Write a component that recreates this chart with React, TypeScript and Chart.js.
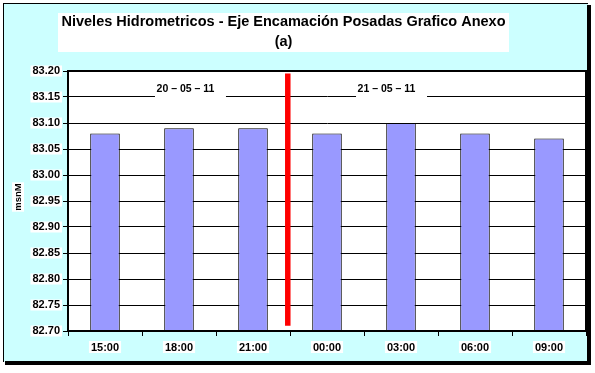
import React, { useEffect, useRef } from 'react';
import { Chart, registerables } from 'chart.js';

Chart.register(...registerables);

const categories = ['15:00', '18:00', '21:00', '00:00', '03:00', '06:00', '09:00'];
const levels = [83.08, 83.09, 83.09, 83.08, 83.1, 83.08, 83.07];
const yMin = 82.7;
const yMax = 83.2;
const yStep = 0.05;
const titleLines = ['Niveles Hidrometricos - Eje Encamación Posadas Grafico Anexo', '(a)'];
const yAxisTitle = 'msnM';
const dateLabels = ['20 – 05 – 11', '21 – 05 – 11'];
const dateLabelX = [1.155, 3.872];
const dateLabelY = 83.165;
const dividerX = 2.47;
const dividerRange = [83.195, 82.71];

const FONT = '"Liberation Sans", Arial, sans-serif';

const decor = {
  id: 'decor',
  beforeDraw(chart: any) {
    const { ctx, chartArea } = chart;
    ctx.save();
    ctx.fillStyle = '#ffffff';
    ctx.fillRect(0, 0, chart.width, chart.height);
    ctx.fillStyle = '#CCFFFF';
    ctx.fillRect(3, 3, 585, 359);
    ctx.fillStyle = '#000';
    ctx.fillRect(3, 3, 585, 1);
    ctx.fillRect(3, 3, 1, 359);
    ctx.fillRect(587, 5, 4, 360);
    ctx.fillRect(5, 361, 586, 4);
    ctx.fillStyle = '#ffffff';
    ctx.fillRect(chartArea.left, chartArea.top, chartArea.right - chartArea.left, chartArea.bottom - chartArea.top);
    ctx.restore();
  },
  afterDatasetsDraw(chart: any) {
    const { ctx } = chart;
    const x = chart.scales.x;
    const y = chart.scales.y;
    ctx.save();
    // divider line
    const dx = x.getPixelForValue(dividerX);
    ctx.strokeStyle = '#FF0000';
    ctx.lineWidth = 5.5;
    ctx.beginPath();
    ctx.moveTo(dx, y.getPixelForValue(dividerRange[0]));
    ctx.lineTo(dx, y.getPixelForValue(dividerRange[1]));
    ctx.stroke();
    // date labels
    const ly = y.getPixelForValue(dateLabelY);
    ctx.font = `bold 10.5px ${FONT}`;
    ctx.textAlign = 'center';
    ctx.textBaseline = 'middle';
    dateLabels.forEach((t, i) => {
      const cx = x.getPixelForValue(dateLabelX[i]);
      ctx.fillStyle = '#ffffff';
      ctx.fillRect(cx - 35.5, ly - 9, 71, 19);
      ctx.fillStyle = '#000';
      ctx.fillText(t, cx - 5, ly);
    });
    ctx.restore();
  },
  afterDraw(chart: any) {
    const { ctx, chartArea } = chart;
    ctx.save();
    ctx.strokeStyle = '#000';
    ctx.lineWidth = 2;
    ctx.strokeRect(chartArea.left, chartArea.top, chartArea.right - chartArea.left, chartArea.bottom - chartArea.top);
    // title
    ctx.fillStyle = '#ffffff';
    ctx.fillRect(58, 13, 451, 39);
    ctx.fillStyle = '#000';
    ctx.font = `bold 14.5px ${FONT}`;
    ctx.textAlign = 'center';
    ctx.textBaseline = 'middle';
    ctx.fillText(titleLines[0], 283.5, 22);
    ctx.fillText(titleLines[1], 283.5, 42);
    // y axis title
    ctx.translate(18, 197);
    ctx.rotate(-Math.PI / 2);
    ctx.font = `bold 9.5px ${FONT}`;
    const w = ctx.measureText(yAxisTitle).width;
    ctx.fillStyle = '#ffffff';
    ctx.fillRect(-w / 2 - 1, -6, w + 2, 12);
    ctx.fillStyle = '#000';
    ctx.fillText(yAxisTitle, 0, 0);
    ctx.restore();
  },
};

export default function App() {
  const ref = useRef<HTMLCanvasElement>(null);
  useEffect(() => {
    if (!ref.current) return;
    const chart = new Chart(ref.current, {
      type: 'bar',
      data: {
        labels: categories,
        datasets: [
          {
            data: levels,
            backgroundColor: '#9999FF',
            borderColor: '#000',
            borderWidth: 1,
            barPercentage: 0.4,
            categoryPercentage: 1,
          },
        ],
      },
      options: {
        responsive: false,
        animation: false,
        devicePixelRatio: 1,
        layout: { padding: { left: 0, right: 9, top: 71, bottom: 0 } },
        plugins: { legend: { display: false }, tooltip: { enabled: false }, title: { display: false } },
        scales: {
          x: {
            afterFit: (s: any) => { s.height = 42; },
            grid: { drawOnChartArea: false, drawTicks: true, tickLength: 5, color: '#000', offset: true },
            border: { color: '#000', width: 2 },
            ticks: {
              color: '#000',
              font: { family: FONT, size: 11, weight: 'bold', lineHeight: 1 },
              padding: 6,
              showLabelBackdrop: true,
              backdropColor: '#ffffff',
              backdropPadding: { top: 1, bottom: 0, left: 2, right: 2 },
            } as any,
          },
          y: {
            min: yMin,
            max: yMax,
            afterFit: (s: any) => { s.width = 68; },
            grid: { color: '#000', lineWidth: 1, tickLength: 5 },
            border: { color: '#000', width: 2 },
            ticks: {
              stepSize: yStep,
              color: '#000',
              padding: 3,
              font: { family: FONT, size: 11, weight: 'bold', lineHeight: 1 },
              callback: (v: any) => Number(v).toFixed(2),
              showLabelBackdrop: true,
              backdropColor: '#ffffff',
              backdropPadding: { top: 0, bottom: 0, left: 2, right: 2 },
            } as any,
          },
        },
      },
      plugins: [decor],
    });
    return () => chart.destroy();
  }, []);
  return (
    <canvas
      ref={ref}
      width={595}
      height={373}
      style={{ position: 'absolute', left: 0, top: 0, display: 'block' }}
    />
  );
}
